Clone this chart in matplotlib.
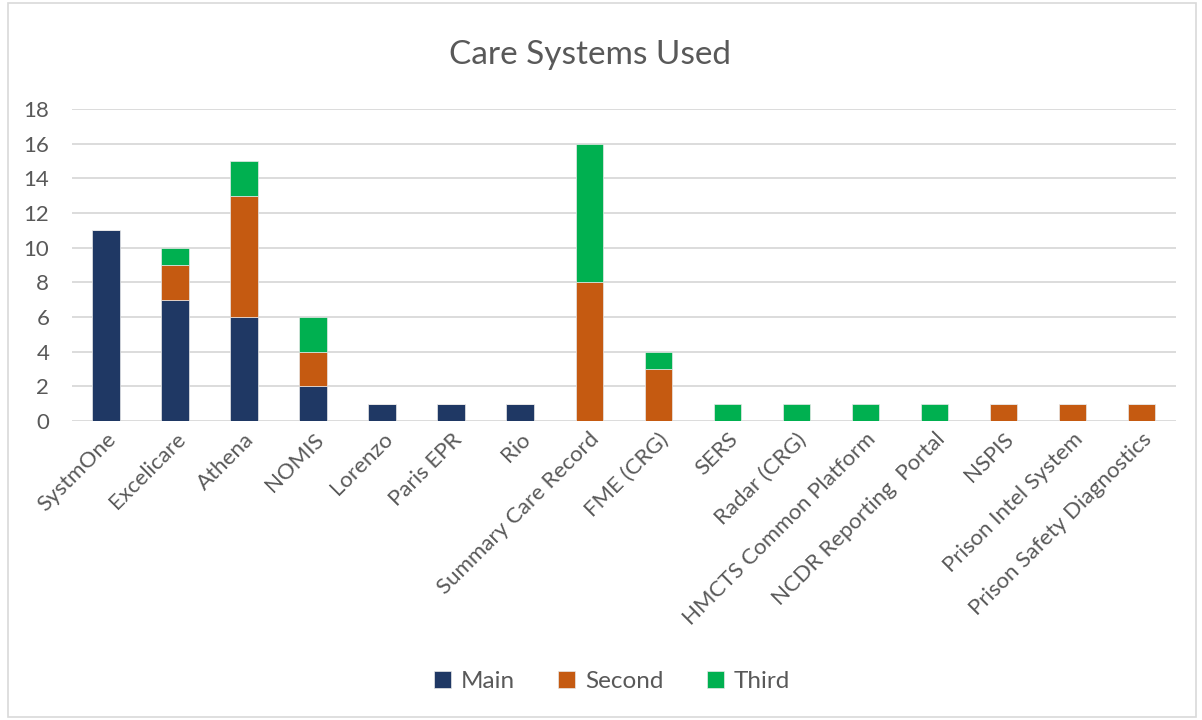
import matplotlib
matplotlib.use("Agg")
import matplotlib.pyplot as plt
from matplotlib.patches import Rectangle
import numpy as np

plt.rcParams['font.family'] = ['Lato', 'DejaVu Sans']

systems = ["SystmOne", "Excelicare", "Athena", "NOMIS", "Lorenzo", "Paris EPR", "Rio",
           "Summary Care Record", "FME (CRG)", "SERS", "Radar (CRG)",
           "HMCTS Common Platform", "NCDR Reporting  Portal", "NSPIS",
           "Prison Intel System", "Prison Safety Diagnostics"]
main = [11, 7, 6, 2, 1, 1, 1, 0, 0, 0, 0, 0, 0, 0, 0, 0]
second = [0, 2, 7, 2, 0, 0, 0, 8, 3, 0, 0, 0, 0, 1, 1, 1]
third = [0, 1, 2, 2, 0, 0, 0, 8, 1, 1, 1, 1, 1, 0, 0, 0]

text_col = '#595959'
fig = plt.figure(figsize=(12.02, 7.2), dpi=100)
ax = fig.add_axes([0.0595, 0.4153, 0.919, 0.4333])

x = np.arange(len(systems))
w = 0.4
main = np.array(main)
second = np.array(second)
third = np.array(third)
ax.bar(x, main, w, color='#1F3864', edgecolor='#E8E8E8', linewidth=0.5, label='Main', zorder=3)
ax.bar(x, second, w, bottom=main, color='#C55A11', edgecolor='#E8E8E8', linewidth=0.5, label='Second', zorder=3)
ax.bar(x, third, w, bottom=main + second, color='#00B050', edgecolor='#E8E8E8', linewidth=0.5, label='Third', zorder=3)

ax.set_xlim(-0.5, len(systems) - 0.5)
ax.set_ylim(0, 18)
ax.set_yticks(range(0, 19, 2))
ax.yaxis.grid(True, color='#D9D9D9', linewidth=1.3, zorder=0)
ax.set_axisbelow(True)
for s in ax.spines.values():
    s.set_visible(False)
ax.tick_params(axis='both', length=0, colors=text_col, labelsize=16)
ax.tick_params(axis='y', pad=16)
ax.tick_params(axis='x', pad=6)
ax.set_xticks(x)
ax.set_xticklabels(systems, rotation=45, ha='right', rotation_mode='anchor')

fig.text(0.491, 0.924, "Care Systems Used", ha='center', va='center', fontsize=24, color=text_col)

leg = fig.legend(loc='center', bbox_to_anchor=(0.509, 0.054), ncol=3, frameon=False,
                 fontsize=17.5, handlelength=0.7, handleheight=0.7, columnspacing=1.8,
                 handletextpad=0.4)
for t in leg.get_texts():
    t.set_color(text_col)

fig.patches.append(Rectangle((0.007, 0.004), 0.988, 0.992, transform=fig.transFigure,
                             fill=False, edgecolor='#D9D9D9', linewidth=1.2))

fig.savefig('out.png', dpi=100)
